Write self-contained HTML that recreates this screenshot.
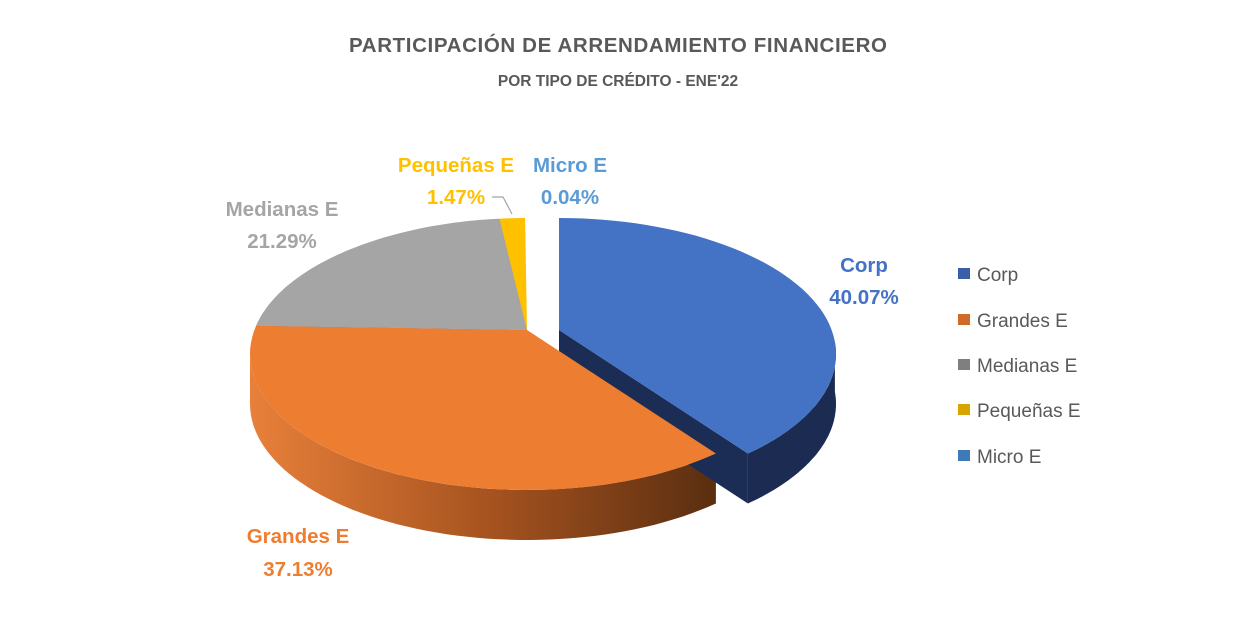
<!DOCTYPE html>
<html><head><meta charset="utf-8"><style>
body{margin:0;background:#fff;width:1240px;height:630px;overflow:hidden;font-family:"Liberation Sans",sans-serif}
</style></head><body>
<svg id="s" width="1240" height="630" xmlns="http://www.w3.org/2000/svg" style="font-family:'Liberation Sans',sans-serif">
<defs>
<linearGradient id="og" x1="0" x2="1" y1="0" y2="0"><stop offset="0" stop-color="#e8803a"/><stop offset="0.5" stop-color="#a85420"/><stop offset="1" stop-color="#5a2e10"/></linearGradient>
</defs>
<g id="pie"></g>
<text x="618" y="52" text-anchor="middle" font-size="20.5" font-weight="bold" fill="#595959" textLength="538">PARTICIPACIÓN DE ARRENDAMIENTO FINANCIERO</text>
<text x="618" y="86" text-anchor="middle" font-size="15.5" font-weight="bold" fill="#595959">POR TIPO DE CRÉDITO - ENE'22</text>
<g font-size="20.5" font-weight="bold" text-anchor="middle">
<text x="456" y="172" fill="#ffc000">Pequeñas E</text>
<text x="456" y="204" fill="#ffc000">1.47%</text>
<text x="570" y="172" fill="#5b9bd5">Micro E</text>
<text x="570" y="204" fill="#5b9bd5">0.04%</text>
<text x="282" y="216" fill="#a5a5a5">Medianas E</text>
<text x="282" y="248" fill="#a5a5a5">21.29%</text>
<text x="864" y="272" fill="#4472c4">Corp</text>
<text x="864" y="304" fill="#4472c4">40.07%</text>
<text x="298" y="543" fill="#ed7d31">Grandes E</text>
<text x="298" y="576" fill="#ed7d31">37.13%</text>
</g>
<polyline points="492,197 503,197 512,214" fill="none" stroke="#a5a5a5" stroke-width="1.2"/>
<g font-size="19" fill="#595959">
<rect x="958" y="268" width="12" height="11" fill="#3a5fa8"/><text x="977" y="281">Corp</text>
<rect x="958" y="314" width="12" height="11" fill="#d06a28"/><text x="977" y="327">Grandes E</text>
<rect x="958" y="359" width="12" height="11" fill="#7f7f7f"/><text x="977" y="372">Medianas E</text>
<rect x="958" y="404" width="12" height="11" fill="#d8a400"/><text x="977" y="417">Pequeñas E</text>
<rect x="958" y="450" width="12" height="11" fill="#3e79b8"/><text x="977" y="463">Micro E</text>
</g>
</svg>
<script>
var g=document.getElementById('pie'),cx=527,cy=354,rx=277,ry=136,ax=527,ay=330,T=50,E=32,C=47,G=192;
function P(a,dx,dy){a=a*Math.PI/180;return[(cx+dx+rx*Math.cos(a)).toFixed(1),(cy+dy+ry*Math.sin(a)).toFixed(1)]}
function arc(a0,a1,dx,dy,h){var s='';for(var a=a0;a<=a1+0.01;a+=(a1-a0)/60){var p=P(a,dx,dy+h);s+='L'+p[0]+','+p[1]}return s}
function arcR(a0,a1,dx,dy,h){var s='';for(var a=a1;a>=a0-0.01;a-=(a1-a0)/60){var p=P(a,dx,dy+h);s+='L'+p[0]+','+p[1]}return s}
function add(d,f){var e=document.createElementNS('http://www.w3.org/2000/svg','path');e.setAttribute('d',d);e.setAttribute('fill',f);g.appendChild(e)}
var sl=[[-90,C,'#4472c4',E],[C,G,'#ed7d31',0],[G,264.3,'#a5a5a5',0],[264.3,269.6,'#ffc000',0]];
add('M'+ax+','+ay+'L'+P(G,0,0)+'L'+P(G,0,8)+'L'+ax+','+(ay+8)+'Z','#404040');
add('M'+ax+','+ay+'L'+P(264.3,0,0)+'L'+P(264.3,0,8)+'L'+ax+','+(ay+8)+'Z','#7a5a00');
add('M'+P(C,0,0)+arc(C,180,0,0,0)+arcR(C,180,0,0,T)+'Z','url(#og)');
add('M'+P(-5,E,0)+arc(-5,C,E,0,0)+arcR(-5,C,E,0,T)+'Z','#1b2b52');
add('M'+(ax+E)+','+ay+'L'+P(C,E,0)+'L'+P(C,E,T)+'L'+(ax+E)+','+(ay+T)+'Z','#1c2d55');
for(var i=0;i<sl.length;i++){var s=sl[i];var x=ax+s[3];add('M'+x+','+ay+arc(s[0],s[1],s[3],0,0)+'Z',s[2]);}
</script>
</body></html>
